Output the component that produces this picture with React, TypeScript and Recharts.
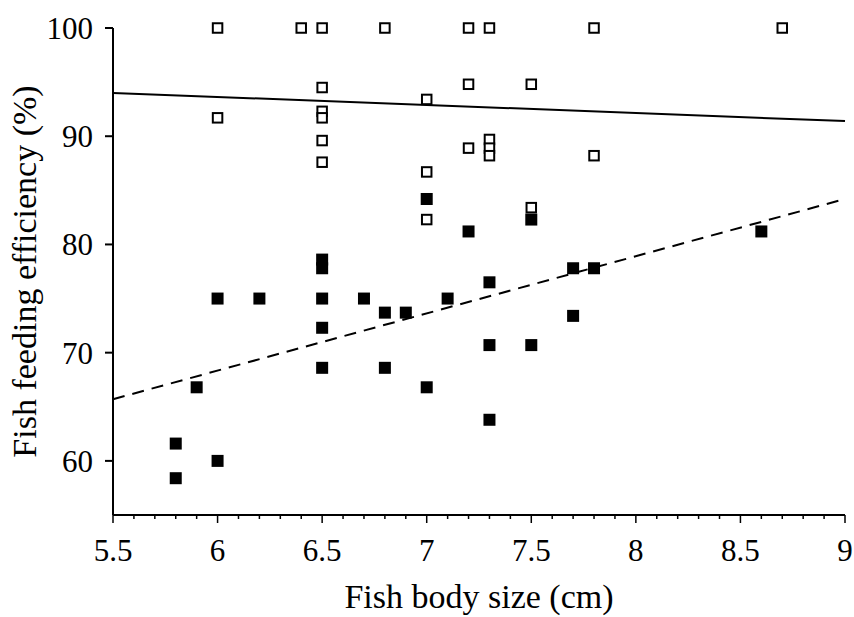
import { ScatterChart, Scatter, XAxis, YAxis } from 'recharts';

// open squares (upper group)
const openX = [6.0, 6.4, 6.5, 6.8, 7.2, 7.3, 7.8, 8.7, 6.0, 6.5, 6.5, 6.5, 6.5, 6.5, 7.0, 7.0, 7.0, 7.2, 7.2, 7.3, 7.3, 7.3, 7.5, 7.5, 7.8];
const openY = [100, 100, 100, 100, 100, 100, 100, 100, 91.7, 94.5, 92.3, 91.7, 89.6, 87.6, 93.4, 86.7, 82.3, 94.8, 88.9, 89.7, 88.9, 88.2, 94.8, 83.4, 88.2];

// filled squares (lower group)
const filledX = [5.8, 5.8, 5.9, 6.0, 6.0, 6.2, 6.5, 6.5, 6.5, 6.5, 6.5, 6.7, 6.8, 6.8, 6.9, 7.0, 7.0, 7.1, 7.2, 7.3, 7.3, 7.3, 7.5, 7.5, 7.7, 7.7, 7.8, 8.6];
const filledY = [61.6, 58.4, 66.8, 75.0, 60.0, 75.0, 78.6, 77.8, 75.0, 72.3, 68.6, 75.0, 73.7, 68.6, 73.7, 84.2, 66.8, 75.0, 81.2, 76.5, 70.7, 63.8, 82.3, 70.7, 77.8, 73.4, 77.8, 81.2];

// fitted lines, end points
const fitX = [5.5, 9];
const openFitY = [94.0, 91.4];
const filledFitY = [65.7, 84.2];

const majorTicks = [5.5, 6, 6.5, 7, 7.5, 8, 8.5, 9];
const xTicks = [
  5.5, 5.6, 5.7, 5.8, 5.9, 6, 6.1, 6.2, 6.3, 6.4, 6.5, 6.6, 6.7, 6.8, 6.9, 7,
  7.1, 7.2, 7.3, 7.4, 7.5, 7.6, 7.7, 7.8, 7.9, 8, 8.1, 8.2, 8.3, 8.4, 8.5,
  8.6, 8.7, 8.8, 8.9, 9,
];
const yTicks = [60, 70, 80, 90, 100];

const font = '"Liberation Serif", "Times New Roman", serif';

const openData = openX.map((x, i) => ({ x, y: openY[i] }));
const filledData = filledX.map((x, i) => ({ x, y: filledY[i] }));
const openFit = fitX.map((x, i) => ({ x, y: openFitY[i] }));
const filledFit = fitX.map((x, i) => ({ x, y: filledFitY[i] }));

const OpenSquare = ({ cx, cy }: any) => (
  <rect x={cx - 4.75} y={cy - 4.75} width={9.5} height={9.5} fill="#fff" stroke="#000" strokeWidth={2} />
);

const FilledSquare = ({ cx, cy }: any) => (
  <rect x={cx - 6} y={cy - 6} width={12} height={12} fill="#000" />
);

const XTick = ({ x, y, payload }: any) => {
  const v = payload.value;
  const major = majorTicks.some((m) => Math.abs(m - v) < 1e-6);
  return (
    <g>
      <line x1={x} y1={y} x2={x} y2={y + (major ? 8 : 4)} stroke="#000" strokeWidth={1.5} />
      {major && (
        <text x={x} y={y + 46} textAnchor="middle" fontSize={31} fontFamily={font} fill="#000">
          {v}
        </text>
      )}
    </g>
  );
};

export default function App() {
  return (
    <div style={{ position: 'absolute', left: 0, top: 0, background: '#fff' }}>
      <ScatterChart width={854} height={617} margin={{ top: 28, right: 9, left: 0, bottom: 0 }}>
        <XAxis
          type="number"
          dataKey="x"
          domain={[5.5, 9]}
          ticks={xTicks}
          interval={0}
          height={102}
          tickSize={0}
          tickMargin={0}
          tickLine={false}
          tick={<XTick />}
          axisLine={{ stroke: '#000', strokeWidth: 2 }}
          label={{
            value: 'Fish body size (cm)',
            position: 'insideBottom',
            offset: 9,
            style: { fontSize: 34, fontFamily: font, fill: '#000' },
          }}
        />
        <YAxis
          type="number"
          dataKey="y"
          domain={[55, 100]}
          ticks={yTicks}
          interval={0}
          width={113}
          tickSize={8}
          tickMargin={12}
          tick={{ fontSize: 31, fontFamily: font, fill: '#000' }}
          tickLine={{ stroke: '#000', strokeWidth: 2 }}
          axisLine={{ stroke: '#000', strokeWidth: 2 }}
          label={{
            value: 'Fish feeding efficiency (%)',
            angle: -90,
            position: 'insideLeft',
            offset: 24,
            style: { fontSize: 34, fontFamily: font, fill: '#000', textAnchor: 'middle' },
          }}
        />
        <Scatter data={openFit} line={{ stroke: '#000', strokeWidth: 2 }} shape={() => null} isAnimationActive={false} />
        <Scatter
          data={filledFit}
          line={{ stroke: '#000', strokeWidth: 2, strokeDasharray: '12 8' }}
          shape={() => null}
          isAnimationActive={false}
        />
        <Scatter data={openData} shape={<OpenSquare />} isAnimationActive={false} />
        <Scatter data={filledData} shape={<FilledSquare />} isAnimationActive={false} />
      </ScatterChart>
    </div>
  );
}
